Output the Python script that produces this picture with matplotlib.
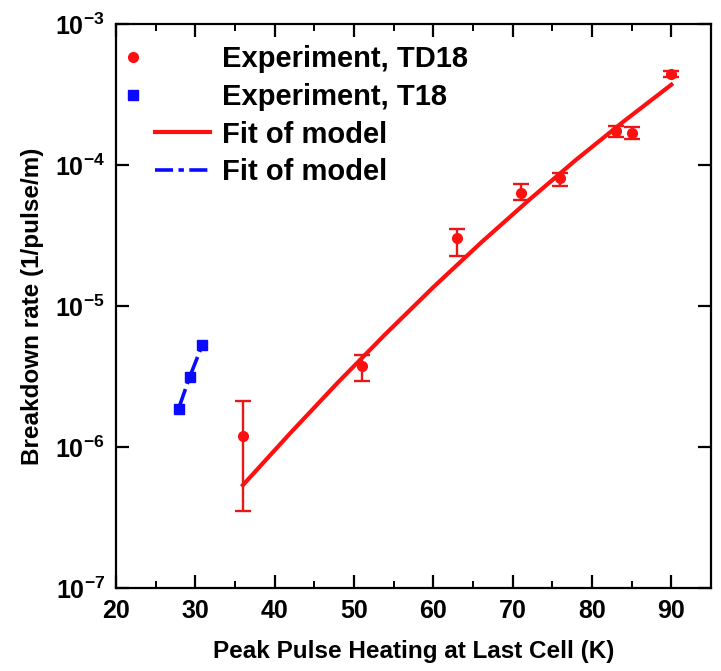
import matplotlib
matplotlib.use("Agg")
import matplotlib.pyplot as plt
import numpy as np
from matplotlib.ticker import MultipleLocator, FixedLocator, NullLocator
from matplotlib.legend_handler import HandlerLine2D

plt.rcParams['font.family'] = ['Liberation Sans', 'DejaVu Sans']
plt.rcParams['font.weight'] = 'bold'
plt.rcParams['mathtext.fontset'] = 'custom'
plt.rcParams['mathtext.rm'] = 'Liberation Sans:bold'
plt.rcParams['mathtext.bf'] = 'Liberation Sans:bold'
plt.rcParams['mathtext.it'] = 'Liberation Sans:bold'

# TD18 experiment
td18_x = [36, 51, 63, 71, 76, 83, 85, 90]
td18_y = [1.20e-6, 3.77e-6, 3.02e-5, 6.37e-5, 8.05e-5, 1.74e-4, 1.68e-4, 4.42e-4]
td18_hi = [2.12e-6, 4.49e-6, 3.52e-5, 7.33e-5, 8.73e-5, 1.89e-4, 1.87e-4, 4.67e-4]
td18_lo = [3.52e-7, 2.94e-6, 2.28e-5, 5.65e-5, 7.13e-5, 1.57e-4, 1.54e-4, 4.18e-4]

# T18 experiment
t18_x = [28.0, 29.3, 30.85]
t18_y = [1.86e-6, 3.12e-6, 5.28e-6]

# Fit of model (TD18)
fit_td_x = [36, 42, 48, 54, 60, 66, 72, 78, 84, 90]
fit_td_y = [5.37e-7, 1.26e-6, 2.88e-6, 6.35e-6, 1.36e-5, 2.81e-5, 5.61e-5, 1.09e-4, 2.04e-4, 3.71e-4]

# Fit of model (T18)
fit_t_x = [28.0, 29.3, 30.85]
fit_t_y = [1.95e-6, 3.15e-6, 5.25e-6]

xticks = [20, 30, 40, 50, 60, 70, 80, 90]
yticks = [1e-7, 1e-6, 1e-5, 1e-4, 1e-3]
ytick_labels = [r'$\mathbf{10^{-7}}$', r'$\mathbf{10^{-6}}$', r'$\mathbf{10^{-5}}$',
                r'$\mathbf{10^{-4}}$', r'$\mathbf{10^{-3}}$']

red = '#ff1010'
blue = '#0a0aff'


class MarkerLeftHandler(HandlerLine2D):
    """Place the marker to the left of the handle area (as in the reference)."""
    def get_xdata(self, legend, xdescent, ydescent, width, height, fontsize):
        m = -xdescent - 0.4 * width
        xdata = np.array([m - 1.0, m + 1.0])
        xmark = np.array([m])
        return xdata, xmark


fig = plt.figure(figsize=(7.21, 6.71), dpi=100)
ax = fig.add_axes([116/721, 1-588/671, (711-116)/721, (588-24)/671])

yerr = [np.array(td18_y) - np.array(td18_lo), np.array(td18_hi) - np.array(td18_y)]
ax.errorbar(td18_x, td18_y, yerr=yerr, fmt='none', ecolor='#e81818', elinewidth=1.7,
            capsize=6, capthick=1.7, zorder=3)
h1, = ax.plot(td18_x, td18_y, 'o', color=red, markersize=7, linestyle='none',
              label='Experiment, TD18', zorder=4)
h2, = ax.plot(t18_x, t18_y, 's', color=blue, markersize=7.5, linestyle='none',
              label='Experiment, T18', zorder=4)
h3, = ax.plot(fit_td_x, fit_td_y, '-', color=red, linewidth=3.0, label='Fit of model', zorder=2)
h4, = ax.plot(fit_t_x, fit_t_y, '-.', color=blue, linewidth=2.6, label='Fit of model', zorder=2,
              dashes=(5, 1.5, 1.5, 1.5))

ax.set_yscale('log')
ax.set_xlim(20, 95)
ax.set_ylim(1e-7, 1e-3)

ax.xaxis.set_major_locator(FixedLocator(xticks))
ax.xaxis.set_minor_locator(MultipleLocator(5))
ax.set_xticklabels([str(t) for t in xticks])
ax.yaxis.set_major_locator(FixedLocator(yticks))
ax.yaxis.set_minor_locator(NullLocator())
ax.set_yticklabels(ytick_labels)

ax.tick_params(axis='both', which='major', direction='in', length=9.5, width=1.6,
               top=True, right=True, labelsize=18, pad=8)
ax.tick_params(axis='x', which='minor', direction='in', length=5, width=1.4, top=True)
for lab in ax.get_xticklabels():
    lab.set_fontweight('bold')
for s in ax.spines.values():
    s.set_linewidth(1.6)

ax.set_xlabel('Peak Pulse Heating at Last Cell (K)', fontsize=17.5, fontweight='bold', labelpad=12)
ax.set_ylabel('Breakdown rate (1/pulse/m)', fontsize=17.5, fontweight='bold', labelpad=8)

leg = ax.legend(handles=[h1, h2, h3, h4], loc='upper left', frameon=False,
                handlelength=1.9, handletextpad=0.4, labelspacing=0.33,
                borderaxespad=0.2, borderpad=0.3,
                bbox_to_anchor=(0.041, 0.988),
                prop={'weight': 'bold', 'size': 21},
                handler_map={h1: MarkerLeftHandler(), h2: MarkerLeftHandler()})

fig.savefig('out.png', dpi=100)
